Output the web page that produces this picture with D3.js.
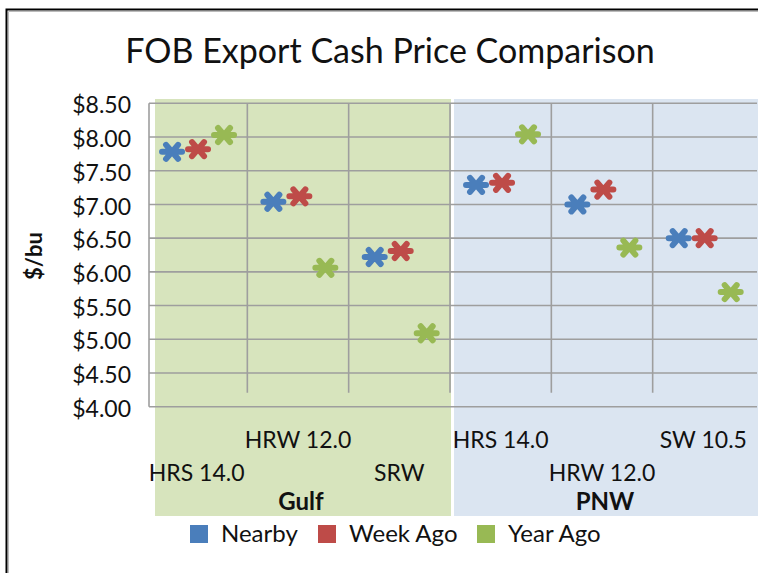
<!DOCTYPE html>
<html>
<head>
<meta charset="utf-8">
<script src="https://cdn.jsdelivr.net/npm/d3@7"></script>
<style>
  body { margin: 0; background: #fff; }
  text { font-family: Lato, 'Open Sans', sans-serif; fill: #111; }
</style>
</head>
<body>
<div id="chart"></div>
<script>
// chart data
var groups = ['Gulf', 'PNW']
var categories = ['HRS 14.0', 'HRW 12.0', 'SRW', 'HRS 14.0', 'HRW 12.0', 'SW 10.5']
var categoryGroup = ['Gulf', 'Gulf', 'Gulf', 'PNW', 'PNW', 'PNW']
var seriesNames = ['Nearby', 'Week Ago', 'Year Ago']
var nearby = [7.78, 7.04, 6.22, 7.29, 7.00, 6.50]
var weekAgo = [7.82, 7.12, 6.31, 7.32, 7.22, 6.50]
var yearAgo = [8.03, 6.06, 5.09, 8.04, 6.36, 5.70]
var yTicks = [4.0, 4.5, 5.0, 5.5, 6.0, 6.5, 7.0, 7.5, 8.0, 8.5]

var colors = ['#4a7ebb', '#be4b48', '#98b954']
var groupFill = { Gulf: '#d7e4bd', PNW: '#dbe5f1' }
var seriesValues = [nearby, weekAgo, yearAgo]

var width = 758
var height = 573

var svg = d3.select('#chart')
  .append('svg')
  .attr('width', width)
  .attr('height', height)

// outer frame (left and top edges only are visible)
svg.append('path')
  .attr('d', 'M6.5,' + height + 'V9.5H' + width)
  .attr('fill', 'none')
  .attr('stroke', '#000')
  .attr('stroke-width', 2)
svg.append('path')
  .attr('d', 'M8.5,' + height + 'V11.5H' + width)
  .attr('fill', 'none')
  .attr('stroke', '#bbb')
  .attr('stroke-width', 1)

// scales
var x = d3.scaleBand()
  .domain(d3.range(categories.length))
  .range([146, 754])

var inner = d3.scalePoint()
  .domain(seriesNames)
  .range([x.bandwidth() * 0.257, x.bandwidth() * 0.77])

var y = d3.scaleLinear()
  .domain([4, 8.5])
  .range([406.7, 103.3])

// group background panels
groups.forEach(function (g, gi) {
  var idx = d3.range(categories.length).filter(function (i) { return categoryGroup[i] === g })
  var x0 = x(idx[0])
  var x1 = x(idx[idx.length - 1]) + x.bandwidth()
  var left = gi === 0 ? x0 + 9 : x0 + 4
  var right = gi === 0 ? x1 + 1 : width + 2
  svg.append('rect')
    .attr('x', left)
    .attr('y', 99)
    .attr('width', right - left)
    .attr('height', 516 - 99)
    .attr('fill', groupFill[g])
})

// horizontal gridlines
svg.append('g')
  .selectAll('line')
  .data(yTicks)
  .enter()
  .append('line')
  .attr('x1', 149)
  .attr('x2', 757)
  .attr('y1', function (d) { return y(d) })
  .attr('y2', function (d) { return y(d) })
  .attr('stroke', '#9e9e9e')
  .attr('stroke-width', 1.6)

// vertical gridlines between categories
svg.append('g')
  .selectAll('line')
  .data(d3.range(1, categories.length))
  .enter()
  .append('line')
  .attr('x1', function (d) { return x(d) })
  .attr('x2', function (d) { return x(d) })
  .attr('y1', y(8.5))
  .attr('y2', y(4) - 14)
  .attr('stroke', '#9e9e9e')
  .attr('stroke-width', 1.6)

// y axis line
svg.append('line')
  .attr('x1', 149).attr('x2', 149)
  .attr('y1', y(8.5)).attr('y2', y(4))
  .attr('stroke', '#9e9e9e')
  .attr('stroke-width', 1.6)

// y axis labels
var yAxis = d3.axisLeft(y)
  .tickValues(yTicks)
  .tickSize(0)
  .tickPadding(0)
  .tickFormat(function (d) { return '$' + d.toFixed(2) })

svg.append('g')
  .attr('transform', 'translate(131,0)')
  .call(yAxis)
  .call(function (g) { g.select('.domain').remove() })
  .selectAll('text')
  .attr('font-family', 'Lato, sans-serif')
  .attr('font-size', 23)
  .attr('fill', '#111')
  .attr('dy', '0.42em')

svg.append('text')
  .attr('transform', 'translate(42,256) rotate(-90)')
  .attr('text-anchor', 'middle')
  .attr('font-size', 22)
  .attr('font-weight', 'bold')
  .text('$/bu')

// title
svg.append('text')
  .attr('x', 390)
  .attr('y', 63)
  .attr('text-anchor', 'middle')
  .attr('font-size', 34)
  .text('FOB Export Cash Price Comparison')

// category labels, staggered in two rows
svg.append('g')
  .selectAll('text')
  .data(categories)
  .enter()
  .append('text')
  .attr('x', function (d, i) { return x(i) + x.bandwidth() / 2 })
  .attr('y', function (d, i) { return i % 2 === 1 ? 448 : 481 })
  .attr('text-anchor', 'middle')
  .attr('font-size', 23)
  .text(function (d) { return d })

// group labels
groups.forEach(function (g) {
  var idx = d3.range(categories.length).filter(function (i) { return categoryGroup[i] === g })
  var cx = (x(idx[0]) + x(idx[idx.length - 1]) + x.bandwidth()) / 2
  svg.append('text')
    .attr('x', cx + 3)
    .attr('y', 510)
    .attr('text-anchor', 'middle')
    .attr('font-size', 24)
    .attr('font-weight', 'bold')
    .text(g)
})

// star markers
var star = 'M-10,0H10M-6,-7L6,7M-6,7L6,-7'

seriesNames.forEach(function (s, si) {
  svg.append('g')
    .selectAll('path')
    .data(seriesValues[si])
    .enter()
    .append('path')
    .attr('transform', function (d, i) {
      return 'translate(' + (x(i) + inner(s)) + ',' + y(d) + ')'
    })
    .attr('d', star)
    .attr('fill', 'none')
    .attr('stroke', colors[si])
    .attr('stroke-width', 6)
    .attr('stroke-linecap', 'round')
})

// legend
var legendX = [190, 318, 477]
var legend = svg.append('g')
  .selectAll('g')
  .data(seriesNames)
  .enter()
  .append('g')
  .attr('transform', function (d, i) { return 'translate(' + legendX[i] + ',525)' })

legend.append('rect')
  .attr('width', 18)
  .attr('height', 18)
  .attr('fill', function (d, i) { return colors[i] })

legend.append('text')
  .attr('x', 31)
  .attr('y', 17)
  .attr('font-size', 24)
  .text(function (d) { return d })
</script>
</body>
</html>
